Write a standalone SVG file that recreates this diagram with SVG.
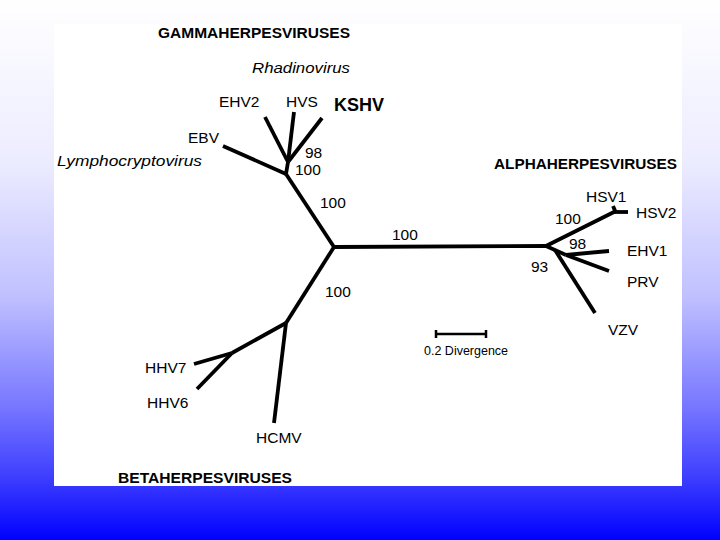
<svg xmlns="http://www.w3.org/2000/svg" width="720" height="540" viewBox="0 0 720 540">
<defs>
<linearGradient id="bg" x1="0" y1="0" x2="0" y2="1">
<stop offset="0" stop-color="#ffffff"/>
<stop offset="0.3" stop-color="#ececff"/>
<stop offset="0.55" stop-color="#c0c0ff"/>
<stop offset="0.75" stop-color="#7878ff"/>
<stop offset="0.88" stop-color="#4040ff"/>
<stop offset="1" stop-color="#0000ff"/>
</linearGradient>
<style>
text{font-family:"Liberation Sans",Arial,sans-serif;fill:#000}
.lb{font-size:15.5px}
.it{font-size:15px;font-style:italic}
.tt{font-size:14.5px;font-weight:bold}
.br{stroke:#000;stroke-width:3.8;fill:none;stroke-linecap:butt;stroke-linejoin:round}
.sc{stroke:#000;stroke-width:2.5;fill:none}
</style>
</defs>
<rect x="0" y="0" width="720" height="540" fill="url(#bg)"/>
<rect x="54" y="24" width="628" height="462" fill="#ffffff"/>

<g id="connectors">
<path class="br" d="M334,247 L286,174"/>
<path class="br" d="M286,174 L223,146"/>
<path class="br" d="M286,174 L288,162"/>
<path class="br" d="M288,162 L265,117"/>
<path class="br" d="M288,162 L294,112"/>
<path class="br" d="M288,162 L322,118"/>
<path class="br" d="M334,247 L546,246"/>
<path class="br" d="M546,246 L616,211"/>
<path class="br" d="M613,206 L616,213"/>
<path class="br" d="M615,212 L628,212"/>
<path class="br" d="M546,246 L566,255"/>
<path class="br" d="M566,255 L609,251"/>
<path class="br" d="M566,255 L609,271"/>
<path class="br" d="M555,250 L595,313"/>
<path class="br" d="M334,247 L286,323"/>
<path class="br" d="M286,323 L232,353"/>
<path class="br" d="M232,353 L194,364"/>
<path class="br" d="M232,353 L197,389"/>
<path class="br" d="M286,323 L274,423"/>
</g>

<g id="gamma">
<text class="tt" x="158" y="38" textLength="192" lengthAdjust="spacingAndGlyphs">GAMMAHERPESVIRUSES</text>
<text class="it" x="252" y="73" textLength="98" lengthAdjust="spacingAndGlyphs">Rhadinovirus</text>
<text class="it" x="57" y="166" textLength="145" lengthAdjust="spacingAndGlyphs">Lymphocryptovirus</text>
</g>
<g id="ehv2"><text class="lb" x="219" y="107">EHV2</text></g>
<g id="hvs"><text class="lb" x="286" y="107">HVS</text></g>
<g id="kshv"><text x="334" y="111" style="font-size:18px;font-weight:bold">KSHV</text></g>
<g id="ebv"><text class="lb" x="188" y="143">EBV</text></g>
<g id="gamma-support">
<text class="lb" x="305" y="158">98</text>
<text class="lb" x="295" y="175">100</text>
<text class="lb" x="320" y="208">100</text>
</g>
<g id="center-support"><text class="lb" x="392" y="240">100</text></g>
<g id="beta-support"><text class="lb" x="325" y="297">100</text></g>

<g id="alpha">
<text class="tt" x="494" y="169" textLength="183" lengthAdjust="spacingAndGlyphs">ALPHAHERPESVIRUSES</text>
<text class="lb" x="555" y="224">100</text>
<text class="lb" x="569" y="249">98</text>
<text class="lb" x="531" y="272">93</text>
</g>
<g id="hsv1"><text class="lb" x="586" y="202">HSV1</text></g>
<g id="hsv2"><text class="lb" x="636" y="218">HSV2</text></g>
<g id="ehv1"><text class="lb" x="627" y="256">EHV1</text></g>
<g id="prv"><text class="lb" x="627" y="287">PRV</text></g>
<g id="vzv"><text class="lb" x="608" y="335">VZV</text></g>

<g id="beta">
<text class="tt" x="118" y="483" textLength="174" lengthAdjust="spacingAndGlyphs">BETAHERPESVIRUSES</text>
</g>
<g id="hhv7"><text class="lb" x="145" y="373">HHV7</text></g>
<g id="hhv6"><text class="lb" x="147" y="408">HHV6</text></g>
<g id="hcmv"><text class="lb" x="256" y="443">HCMV</text></g>

<g id="scale">
<path class="sc" d="M436,334 L486,334 M436,330 L436,338 M486,330 L486,338"/>
<text x="424" y="355" style="font-size:12.5px">0.2 Divergence</text>
</g>
</svg>
